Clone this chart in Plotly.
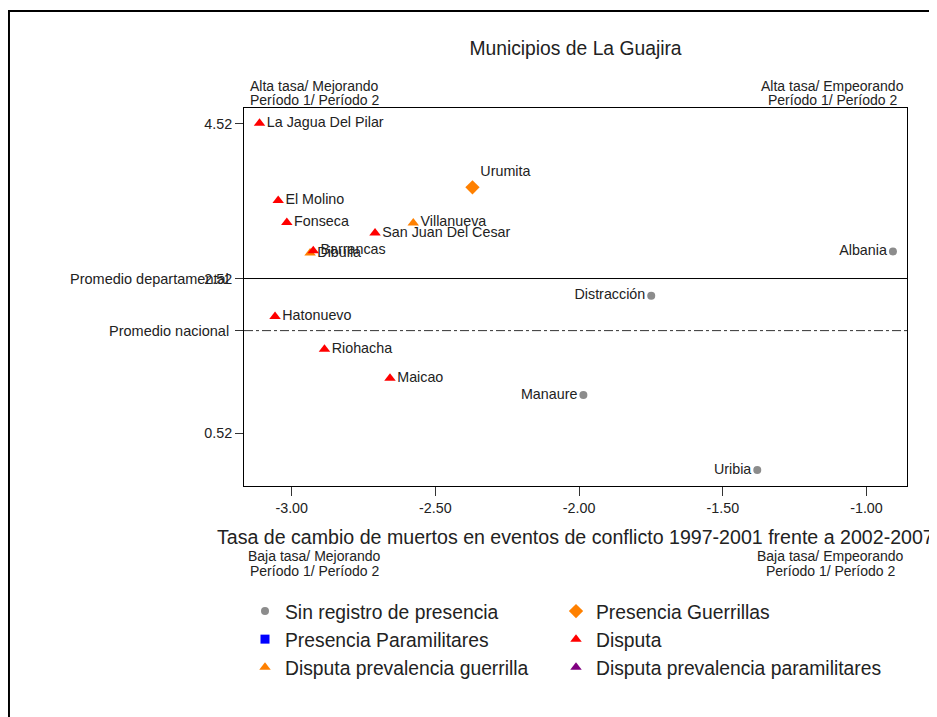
import plotly.graph_objects as go

# Municipios por grupo (x = tasa de cambio, y = tasa periodo)
sin_registro = ["Albania", "Distracción", "Manaure", "Uribia"]
sin_registro_x = [-0.908, -1.749, -1.985, -1.380]
sin_registro_y = [2.87, 2.296, 1.013, 0.042]

guerrillas = ["Urumita"]
guerrillas_x = [-2.371]
guerrillas_y = [3.70]

disputa = ["La Jagua Del Pilar", "El Molino", "Fonseca", "San Juan Del Cesar",
           "Barrancas", "Hatonuevo", "Riohacha", "Maicao"]
disputa_x = [-3.112, -3.047, -3.017, -2.710, -2.925, -3.058, -2.886, -2.658]
disputa_y = [4.53, 3.53, 3.245, 3.108, 2.879, 2.028, 1.605, 1.23]

disp_guerrilla = ["Villanueva", "Dibulla"]
disp_guerrilla_x = [-2.577, -2.936]
disp_guerrilla_y = [3.24, 2.85]

prom_departamental = 2.52
prom_nacional = 1.846

x_ticks = [-3.0, -2.5, -2.0, -1.5, -1.0]
x_ticktext = ["-3.00", "-2.50", "-2.00", "-1.50", "-1.00"]
y_ticks = [0.52, 2.52, 4.52]

FONT = "Liberation Sans, Arial, sans-serif"
TXT = "#222222"
OFF = 8  # margen por defecto del body en la pagina

fig = go.Figure()

# columna izquierda de la leyenda -> legend, derecha -> legend2
fig.add_trace(go.Scatter(
    x=sin_registro_x, y=sin_registro_y, text=sin_registro,
    mode="markers+text", textposition="middle left",
    marker=dict(symbol="circle", size=8, color="#8c8c8c"),
    name="Sin registro de presencia", legend="legend", legendgroup="a"))
fig.add_trace(go.Scatter(
    x=[None], y=[None], mode="markers",
    marker=dict(symbol="square", size=9, color="#0000ff"),
    name="Presencia Paramilitares", legend="legend", legendgroup="b"))
fig.add_trace(go.Scatter(
    x=disp_guerrilla_x, y=disp_guerrilla_y, text=disp_guerrilla,
    mode="markers+text", textposition="middle right",
    marker=dict(symbol="triangle-up", size=10, color="#ff8000"),
    name="Disputa prevalencia guerrilla", legend="legend", legendgroup="c"))
fig.add_trace(go.Scatter(
    x=guerrillas_x, y=guerrillas_y, text=guerrillas,
    mode="markers+text", textposition="top right",
    marker=dict(symbol="diamond", size=11, color="#ff8000"),
    name="Presencia Guerrillas", legend="legend2", legendgroup="d"))
fig.add_trace(go.Scatter(
    x=disputa_x, y=disputa_y, text=disputa,
    mode="markers+text", textposition="middle right",
    marker=dict(symbol="triangle-up", size=10, color="#ff0000"),
    name="Disputa", legend="legend2", legendgroup="e"))
fig.add_trace(go.Scatter(
    x=[None], y=[None], mode="markers",
    marker=dict(symbol="triangle-up", size=10, color="#800080"),
    name="Disputa prevalencia paramilitares", legend="legend2", legendgroup="f"))

fig.update_traces(textfont=dict(size=14.3, color=TXT, family=FONT))

# lineas de promedio
fig.add_hline(y=prom_departamental, line=dict(color="black", width=1))
fig.add_hline(y=prom_nacional, line=dict(color="#333333", width=1, dash="dashdot"))

# marco exterior
fig.add_shape(type="rect", xref="paper", yref="paper",
              x0=-0.3545, x1=1.042, y0=-0.66, y1=1.2566,
              line=dict(color="black", width=2))

notes = [
    ("Promedio departamental", prom_departamental),
    ("Promedio nacional", prom_nacional),
]
for txt, yv in notes:
    fig.add_annotation(text=txt, xref="paper", yref="y", x=0, y=yv,
                       xanchor="right", yanchor="middle", xshift=-13,
                       showarrow=False, font=dict(size=14.5, color=TXT))

quad = [
    ("Alta tasa/ Mejorando", "Período 1/ Período 2", 0.107, 86, 100),
    ("Alta tasa/ Empeorando", "Período 1/ Período 2", 0.888, 86, 100),
    ("Baja tasa/ Mejorando", "Período 1/ Período 2", 0.107, 556, 571),
    ("Baja tasa/ Empeorando", "Período 1/ Período 2", 0.884, 556, 571),
]
for l1, l2, xp, p1, p2 in quad:
    for t, py in ((l1, p1), (l2, p2)):
        fig.add_annotation(text=t, xref="paper", yref="paper", x=xp,
                           y=(486 - py) / 378, xanchor="center",
                           yanchor="middle", showarrow=False,
                           font=dict(size=14, color=TXT))

fig.add_annotation(
    text="Tasa de cambio de muertos en eventos de conflicto 1997-2001 frente a 2002-2007",
    xref="paper", yref="paper", x=0.5, y=(486 - 537) / 378,
    xanchor="center", yanchor="middle", showarrow=False,
    font=dict(size=19.6, color=TXT))

leg = dict(xref="container", yref="container", yanchor="top", xanchor="left",
           font=dict(size=19.3, color=TXT), tracegroupgap=0,
           itemclick=False, bgcolor="rgba(0,0,0,0)")

fig.update_layout(
    width=937, height=717,
    margin=dict(l=244 - OFF, r=937 - (907 - OFF), t=108 - OFF,
                b=717 - (486 - OFF), autoexpand=False),
    paper_bgcolor="white", plot_bgcolor="white",
    font=dict(family=FONT, color=TXT),
    title=dict(text="Municipios de La Guajira", x=0.5, xref="paper",
               y=1 - (48 - OFF) / 717, yanchor="middle",
               font=dict(size=19.3, color=TXT)),
    showlegend=True,
    legend=dict(leg, x=(245 - OFF) / 937, y=1 - (592 - OFF) / 717),
    legend2=dict(leg, x=(556 - OFF) / 937, y=1 - (592 - OFF) / 717),
)

fig.update_xaxes(range=[-3.166, -0.859], tickvals=x_ticks, ticktext=x_ticktext,
                 ticks="outside", ticklen=9, tickcolor="#333333",
                 showline=True, linecolor="black", linewidth=1, mirror=True,
                 showgrid=False, zeroline=False,
                 tickfont=dict(size=14.3, color=TXT))
fig.update_yaxes(range=[-0.165, 4.727],
                 tickvals=y_ticks + [prom_nacional],
                 ticktext=["0.52", "2.52", "4.52", ""],
                 ticks="outside", ticklen=8, tickcolor="#333333",
                 showline=True, linecolor="black", linewidth=1, mirror=True,
                 showgrid=False, zeroline=False,
                 tickfont=dict(size=14.3, color=TXT))

fig.write_html("out.html")
